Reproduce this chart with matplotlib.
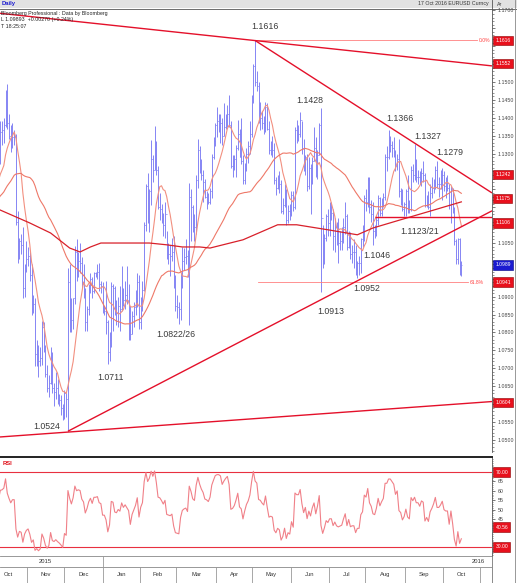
import numpy as np
import pandas as pd
import matplotlib
matplotlib.use("Agg")
import matplotlib.pyplot as plt
from matplotlib.transforms import blended_transform_factory as btf
from matplotlib.patches import Rectangle
from matplotlib.lines import Line2D
from matplotlib import font_manager as fm

# ---------------- data (EUR/USD daily) ----------------
dates = pd.bdate_range("2015-10-01", "2016-10-17")

highs = [
    # Oct 2015
    1.1225, 1.1318, 1.1245, 1.1285, 1.1290, 1.1330, 1.1390, 1.1390, 1.1400, 1.1478, 1.1495,
    1.1410, 1.1380, 1.1385, 1.1365, 1.1355, 1.1140, 1.1065, 1.1075, 1.1095, 1.0990, 1.1055,
    # Nov
    1.1040, 1.1025, 1.0990, 1.0905, 1.0895, 1.0780, 1.0765, 1.0760, 1.0832, 1.0830, 1.0765,
    1.0710, 1.0680, 1.0760, 1.0745, 1.0660, 1.0690, 1.0670, 1.0628, 1.0625, 1.0600,
    # Dec
    1.0640, 1.0630, 1.0981, 1.0990, 1.0895, 1.0895, 1.1042, 1.1060, 1.1025, 1.1050, 1.1010,
    1.0990, 1.0925, 1.0875, 1.0935, 1.0965, 1.0955, 1.0970, 1.0970, 1.0990, 1.0995, 1.0945, 1.0940,
    # Jan 2016
    1.0875, 1.0945, 1.0835, 1.0800, 1.0940, 1.0935, 1.0930, 1.0890, 1.0900, 1.0930, 1.0985,
    1.0925, 1.0945, 1.0985, 1.0935, 1.0875, 1.0860, 1.0885, 1.0920, 1.0965, 1.0960,
    # Feb
    1.0900, 1.0945, 1.1110, 1.1215, 1.1245, 1.1200, 1.1338, 1.1295, 1.1376, 1.1335, 1.1265,
    1.1190, 1.1160, 1.1135, 1.1165, 1.1085, 1.1050, 1.1045, 1.1065, 1.1070, 1.0960,
    # Mar
    1.0905, 1.0885, 1.0965, 1.1040, 1.1035, 1.1060, 1.1030, 1.1218, 1.1200, 1.1155, 1.1130,
    1.1240, 1.1342, 1.1320, 1.1285, 1.1255, 1.1230, 1.1195, 1.1190, 1.1205, 1.1300, 1.1345, 1.1385,
    # Apr
    1.1430, 1.1410, 1.1410, 1.1400, 1.1440, 1.1410, 1.1435, 1.1465, 1.1390, 1.1295, 1.1295,
    1.1325, 1.1395, 1.1370, 1.1400, 1.1295, 1.1275, 1.1315, 1.1335, 1.1390, 1.1465,
    # May
    1.1550, 1.1616, 1.1530, 1.1500, 1.1445, 1.1420, 1.1405, 1.1445, 1.1440, 1.1390, 1.1335,
    1.1350, 1.1330, 1.1235, 1.1240, 1.1250, 1.1225, 1.1175, 1.1215, 1.1200, 1.1155, 1.1160,
    # Jun
    1.1195, 1.1195, 1.1375, 1.1395, 1.1380, 1.1415, 1.1390, 1.1340, 1.1295, 1.1300, 1.1290,
    1.1270, 1.1290, 1.1375, 1.1345, 1.1310, 1.1385, 1.1428, 1.1100, 1.1075, 1.1130, 1.1145,
    # Jul
    1.1165, 1.1165, 1.1145, 1.1120, 1.1110, 1.1120, 1.1085, 1.1095, 1.1120, 1.1165, 1.1130,
    1.1085, 1.1080, 1.1045, 1.1060, 1.1045, 1.1000, 1.1015, 1.1065, 1.1100, 1.1185,
    # Aug
    1.1200, 1.1235, 1.1235, 1.1170, 1.1165, 1.1100, 1.1125, 1.1185, 1.1180, 1.1175, 1.1190,
    1.1300, 1.1320, 1.1366, 1.1350, 1.1335, 1.1345, 1.1310, 1.1300, 1.1340, 1.1205, 1.1200, 1.1165,
    # Sep
    1.1200, 1.1240, 1.1170, 1.1265, 1.1270, 1.1327, 1.1285, 1.1255, 1.1250, 1.1260, 1.1280,
    1.1245, 1.1185, 1.1195, 1.1215, 1.1235, 1.1230, 1.1265, 1.1279, 1.1235, 1.1255, 1.1260,
    # Oct
    1.1250, 1.1235, 1.1240, 1.1215, 1.1210, 1.1205, 1.1150, 1.1060, 1.1065, 1.1065, 1.1000,
]

lows = [
    # Oct 2015
    1.1135, 1.1150, 1.1162, 1.1180, 1.1220, 1.1205, 1.1270, 1.1325, 1.1330, 1.1375, 1.1370,
    1.1340, 1.1305, 1.1315, 1.1325, 1.1100, 1.0995, 1.1005, 1.1020, 1.0895, 1.0900, 1.0970,
    # Nov
    1.0985, 1.0945, 1.0850, 1.0855, 1.0705, 1.0705, 1.0675, 1.0705, 1.0710, 1.0745, 1.0675,
    1.0635, 1.0620, 1.0655, 1.0630, 1.0595, 1.0615, 1.0600, 1.0595, 1.0570, 1.0556,
    # Dec
    1.0558, 1.0565, 1.0524, 1.0800, 1.0800, 1.0810, 1.0880, 1.0945, 1.0955, 1.0965, 1.0925,
    1.0895, 1.0805, 1.0805, 1.0850, 1.0910, 1.0895, 1.0910, 1.0955, 1.0950, 1.0915, 1.0910, 1.0855,
    # Jan 2016
    1.0850, 1.0795, 1.0711, 1.0720, 1.0760, 1.0805, 1.0850, 1.0820, 1.0815, 1.0805, 1.0860,
    1.0875, 1.0865, 1.0880, 1.0780, 1.0780, 1.0795, 1.0815, 1.0850, 1.0870, 1.0810,
    # Feb
    1.0810, 1.0860, 1.0915, 1.1085, 1.1105, 1.1080, 1.1155, 1.1220, 1.1255, 1.1240, 1.1145,
    1.1115, 1.1105, 1.1070, 1.1065, 1.1005, 1.0990, 1.0958, 1.1000, 1.0925, 1.0860,
    # Mar
    1.0840, 1.0825, 1.0835, 1.0925, 1.0975, 1.0990, 1.0955, 1.0822, 1.1055, 1.1080, 1.1055,
    1.1075, 1.1205, 1.1245, 1.1225, 1.1165, 1.1175, 1.1145, 1.1160, 1.1160, 1.1175, 1.1285, 1.1320,
    # Apr
    1.1345, 1.1360, 1.1330, 1.1325, 1.1350, 1.1370, 1.1375, 1.1375, 1.1260, 1.1235, 1.1255,
    1.1235, 1.1310, 1.1290, 1.1270, 1.1215, 1.1215, 1.1250, 1.1275, 1.1300, 1.1345,
    # May
    1.1440, 1.1490, 1.1475, 1.1385, 1.1365, 1.1370, 1.1355, 1.1360, 1.1365, 1.1300, 1.1295,
    1.1290, 1.1215, 1.1185, 1.1200, 1.1190, 1.1135, 1.1130, 1.1150, 1.1100, 1.1105, 1.1115,
    # Jun
    1.1125, 1.1140, 1.1145, 1.1330, 1.1335, 1.1345, 1.1300, 1.1250, 1.1240, 1.1195, 1.1200,
    1.1130, 1.1215, 1.1280, 1.1235, 1.1230, 1.1295, 1.0913, 1.0980, 1.0990, 1.1055, 1.1070,
    # Jul
    1.1070, 1.1115, 1.1030, 1.1025, 1.1045, 1.0995, 1.1030, 1.1030, 1.1050, 1.1075, 1.1030,
    1.1035, 1.1005, 1.0995, 1.0980, 1.0960, 1.0952, 1.0960, 1.0965, 1.1040, 1.1055,
    # Aug
    1.1140, 1.1150, 1.1135, 1.1110, 1.1045, 1.1065, 1.1070, 1.1100, 1.1125, 1.1125, 1.1150,
    1.1170, 1.1250, 1.1285, 1.1305, 1.1290, 1.1290, 1.1250, 1.1255, 1.1180, 1.1155, 1.1140, 1.1125,
    # Sep
    1.1125, 1.1135, 1.1135, 1.1140, 1.1220, 1.1225, 1.1220, 1.1215, 1.1215, 1.1210, 1.1220,
    1.1150, 1.1150, 1.1145, 1.1125, 1.1175, 1.1190, 1.1200, 1.1205, 1.1180, 1.1200, 1.1170,
    # Oct
    1.1195, 1.1175, 1.1195, 1.1145, 1.1105, 1.1135, 1.1045, 1.0990, 1.0990, 1.0960, 1.0958,
]

closes = [
    # Oct 2015
    1.1195, 1.1210, 1.1195, 1.1265, 1.1240, 1.1280, 1.1360, 1.1365, 1.1380, 1.1473, 1.1385,
    1.1350, 1.1320, 1.1345, 1.1345, 1.1110, 1.1015, 1.1055, 1.1045, 1.0925, 1.0980, 1.1005,
    # Nov
    1.1015, 1.0960, 1.0865, 1.0880, 1.0740, 1.0750, 1.0720, 1.0730, 1.0815, 1.0770, 1.0685,
    1.0645, 1.0660, 1.0735, 1.0645, 1.0635, 1.0645, 1.0625, 1.0610, 1.0590, 1.0565,
    # Dec
    1.0630, 1.0615, 1.0940, 1.0880, 1.0835, 1.0895, 1.1025, 1.0990, 1.1000, 1.0995, 1.0935,
    1.0915, 1.0830, 1.0865, 1.0920, 1.0950, 1.0915, 1.0965, 1.0965, 1.0970, 1.0935, 1.0930, 1.0860,
    # Jan 2016
    1.0860, 1.0830, 1.0745, 1.0780, 1.0930, 1.0925, 1.0860, 1.0855, 1.0875, 1.0865, 1.0915,
    1.0890, 1.0905, 1.0890, 1.0875, 1.0795, 1.0845, 1.0870, 1.0895, 1.0940, 1.0830,
    # Feb
    1.0890, 1.0920, 1.1100, 1.1210, 1.1155, 1.1195, 1.1285, 1.1255, 1.1325, 1.1255, 1.1150,
    1.1145, 1.1125, 1.1100, 1.1130, 1.1025, 1.1020, 1.1015, 1.1025, 1.0935, 1.0875,
    # Mar
    1.0870, 1.0865, 1.0955, 1.1000, 1.1010, 1.1015, 1.0995, 1.1180, 1.1150, 1.1105, 1.1095,
    1.1225, 1.1310, 1.1270, 1.1240, 1.1220, 1.1180, 1.1175, 1.1165, 1.1195, 1.1290, 1.1335, 1.1380,
    # Apr
    1.1390, 1.1390, 1.1385, 1.1350, 1.1375, 1.1395, 1.1410, 1.1380, 1.1265, 1.1270, 1.1285,
    1.1315, 1.1355, 1.1290, 1.1280, 1.1225, 1.1265, 1.1300, 1.1320, 1.1355, 1.1450,
    # May
    1.1545, 1.1500, 1.1490, 1.1405, 1.1400, 1.1385, 1.1375, 1.1430, 1.1370, 1.1310, 1.1315,
    1.1310, 1.1225, 1.1205, 1.1225, 1.1215, 1.1140, 1.1155, 1.1190, 1.1115, 1.1140, 1.1130,
    # Jun
    1.1185, 1.1150, 1.1365, 1.1355, 1.1355, 1.1395, 1.1315, 1.1255, 1.1290, 1.1210, 1.1260,
    1.1225, 1.1280, 1.1315, 1.1240, 1.1295, 1.1380, 1.1120, 1.1020, 1.1065, 1.1125, 1.1105,
    # Jul
    1.1135, 1.1135, 1.1070, 1.1095, 1.1060, 1.1050, 1.1055, 1.1060, 1.1095, 1.1125, 1.1040,
    1.1075, 1.1020, 1.1025, 1.1025, 1.0975, 1.0995, 1.0995, 1.1060, 1.1075, 1.1175,
    # Aug
    1.1165, 1.1225, 1.1150, 1.1130, 1.1085, 1.1080, 1.1115, 1.1175, 1.1135, 1.1160, 1.1180,
    1.1290, 1.1290, 1.1325, 1.1325, 1.1315, 1.1305, 1.1265, 1.1285, 1.1195, 1.1185, 1.1145, 1.1160,
    # Sep
    1.1195, 1.1155, 1.1145, 1.1255, 1.1240, 1.1260, 1.1235, 1.1235, 1.1220, 1.1245, 1.1240,
    1.1155, 1.1170, 1.1150, 1.1190, 1.1205, 1.1225, 1.1255, 1.1215, 1.1215, 1.1225, 1.1240,
    # Oct
    1.1210, 1.1205, 1.1205, 1.1155, 1.1200, 1.1145, 1.1055, 1.1005, 1.1060, 1.0970, 1.0989,
]

# closes before the visible window (Jul 20 - Sep 30 2015), used only for indicator warm-up
warmup_closes = [
    1.0830, 1.0935, 1.0930, 1.0985, 1.0980, 1.1085, 1.1060, 1.0985, 1.0935, 1.0985,
    1.0955, 1.0890, 1.0905, 1.0925, 1.0965, 1.1015, 1.1040, 1.1160, 1.1150, 1.1105,
    1.1080, 1.1025, 1.1115, 1.1240, 1.1385, 1.1620, 1.1515, 1.1315, 1.1245, 1.1185,
    1.1215, 1.1310, 1.1230, 1.1120, 1.1150, 1.1170, 1.1205, 1.1150, 1.1270, 1.1340,
    1.1315, 1.1265, 1.1290, 1.1435, 1.1305, 1.1195, 1.1135, 1.1190, 1.1210, 1.1195,
    1.1250, 1.1255, 1.1175,
]

# long moving average (thick dark-red line): trading-day index, price
ma_long_idx = [6, 23, 35, 46, 52, 58, 64, 79, 92, 102, 111, 121, 127, 146, 166, 177, 195, 212, 221, 237, 256, 272]
ma_long_val = [1.1142, 1.1106, 1.1078, 1.1036, 1.1025, 1.1039, 1.1050, 1.1050, 1.1050, 1.1045, 1.1039,
               1.1039, 1.1036, 1.1059, 1.1101, 1.1101, 1.1087, 1.1073, 1.1092, 1.1115, 1.1142, 1.1165]

# trend lines: (index, price) end points
line_top = [(5.8, 1.1692), (289.7, 1.1545)]
line_down = [(153, 1.1616), (289.7, 1.1190)]
line_up = [(45, 1.0524), (289.7, 1.1140)]
line_low = [(5.8, 1.0508), (289.7, 1.0607)]
support_level = 1.1122
support_start = 222
fib_0 = 1.1616
fib_618 = 1.0941

# annotations: text, index, price
ann_text = ["1.1616", "1.1428", "1.1366", "1.1327", "1.1279", "1.1123/21", "1.1046",
            "1.0952", "1.0913", "1.0822/26", "1.0711", "1.0524"]
ann_idx = [158.8, 184.7, 236.7, 252.5, 265.5, 248.2, 223.4, 217.6, 196.8, 107.4, 69.3, 33.0]
ann_val = [1.1656, 1.1447, 1.1397, 1.1349, 1.1302, 1.1081, 1.1014, 1.0922, 1.0860, 1.0793, 1.0673, 1.0536]

# right-hand price boxes
box_vals = [1.1616, 1.1552, 1.1242, 1.1175, 1.1106, 1.0989, 1.0941, 1.0604]
box_cols = ["red", "red", "red", "red", "red", "blue", "red", "red"]
rsi_box_vals = [70.0, 40.56, 30.0]
rsi_box_text = ["70.00", "40.56", "30.00"]

# ---------------- helpers ----------------
def pick(*names):
    for nm in names:
        try:
            fm.findfont(fm.FontProperties(family=nm), fallback_to_default=False)
            return nm
        except Exception:
            pass
    return "DejaVu Sans"

NARROW = pick("Liberation Sans Narrow", "Liberation Sans", "Arial")

n = min(len(dates), len(highs), len(lows), len(closes))
x = np.arange(n)
H = np.array(highs[:n]); L = np.array(lows[:n]); C = np.array(closes[:n])
allc = np.r_[warmup_closes, C]
O = np.r_[warmup_closes[-1], C[:-1]]
w = len(warmup_closes)
ma_short = pd.Series(allc).rolling(10, min_periods=1).mean().values[w:]
ma_mid = pd.Series(allc).rolling(55, min_periods=1).mean().values[w:]

def rsi(series, p=14):
    d = np.diff(series)
    up = pd.Series(np.where(d > 0, d, 0.0)).ewm(alpha=1 / p, adjust=False).mean()
    dn = pd.Series(np.where(d < 0, -d, 0.0)).ewm(alpha=1 / p, adjust=False).mean()
    r = 100 - 100 / (1 + up / dn)
    return np.r_[np.nan, r.values]

R = rsi(allc)[w:]

W, Hh = 517, 583
fig = plt.figure(figsize=(W / 100, Hh / 100), dpi=100)
fig.patch.set_facecolor("white")

def fy(px):
    return 1 - px / Hh

def fx(px):
    return px / W

XL = (5.8, 289.7)
RIGHT = 492

# ---------------- main panel ----------------
ax = fig.add_axes([0, fy(452), fx(RIGHT), fy(9) - fy(452)])
ax.set_xlim(*XL)
ax.set_ylim(1.0466, 1.1704)
for s in ["top", "left", "bottom"]:
    ax.spines[s].set_visible(False)
ax.spines["right"].set_color("#555555")
ax.spines["right"].set_linewidth(0.6)
ax.set_xticks([])
ax.yaxis.tick_right()
major = np.round(np.arange(1.05, 1.1701, 0.005), 4)
ax.set_yticks(major)
ax.set_yticklabels(["" if np.min(np.abs(np.array(box_vals) - v)) < 0.0036 else f"{v:.4f}"
                    for v in major])
ax.set_yticks(np.arange(1.047, 1.1701, 0.001), minor=True)
ax.tick_params(axis="y", which="major", length=2, width=0.5, pad=2, labelsize=3.8,
               colors="#444444")
ax.tick_params(axis="y", which="minor", length=1.2, width=0.4, colors="#444444")
for t in ax.get_yticklabels():
    t.set_fontfamily(NARROW)

bar_col = "#8585f4"
ax.vlines(x, L, H, color=bar_col, lw=0.7, zorder=3)
ax.hlines(O, x - 0.45, x, color=bar_col, lw=0.55, zorder=3)
ax.hlines(C, x, x + 0.45, color=bar_col, lw=0.55, zorder=3)

ax.plot(x, ma_short, color="#f29080", lw=0.8, zorder=4)
ax.plot(x, ma_mid, color="#ee7868", lw=0.8, zorder=4)
ax.plot(ma_long_idx, ma_long_val, color="#d8202a", lw=0.9, zorder=4)

tl = dict(color="#e4102a", lw=1.0, zorder=5, solid_capstyle="butt")
for ln in (line_top, line_down, line_up, line_low):
    ax.plot([ln[0][0], ln[1][0]], [ln[0][1], ln[1][1]], **tl)
ax.plot([support_start, XL[1]], [support_level, support_level], **tl)

ax.plot([153, 281], [fib_0, fib_0], color="#ff8080", lw=0.6, zorder=4)
ax.text(282, fib_0, "0.0%", color="#ff4040", fontsize=3.6, va="center", ha="left",
        family=NARROW, zorder=6)
ax.plot([154.7, 276], [fib_618, fib_618], color="#ff8080", lw=0.6, zorder=4)
ax.text(277, fib_618, "61.8%", color="#ff4040", fontsize=3.6, va="center", ha="left",
        family=NARROW, zorder=6)

for t, i, v in zip(ann_text, ann_idx, ann_val):
    ax.text(i, v, t, fontsize=6.3, color="#3a3a3a", ha="center", va="center",
            family=NARROW, zorder=7)

tr = btf(ax.transAxes, ax.transData)
for v, c in zip(box_vals, box_cols):
    fc = "#e8101c" if c == "red" else "#1a1ad0"
    ax.text(1.007, v, f"{v:.4f}", transform=tr, fontsize=3.6, color="white",
            ha="left", va="center", family=NARROW, clip_on=False, zorder=20,
            bbox=dict(boxstyle="square,pad=0.45", fc=fc, ec="#8a0000" if c == "red" else "#000080",
                      lw=0.4))

# ---------------- RSI panel ----------------
axr = fig.add_axes([0, fy(556), fx(RIGHT), fy(457) - fy(556)])
axr.set_xlim(*XL)
axr.set_ylim(25.2, 78)
for s in ["left", "bottom"]:
    axr.spines[s].set_visible(False)
axr.spines["top"].set_color("#222222")
axr.spines["top"].set_linewidth(1.4)
axr.spines["right"].set_color("#555555")
axr.spines["right"].set_linewidth(0.6)
axr.set_xticks([])
axr.yaxis.tick_right()
axr.set_yticks([45, 50, 55, 60, 65])
axr.set_yticks(np.arange(26, 78, 1), minor=True)
axr.tick_params(axis="y", which="major", length=2, width=0.5, pad=2, labelsize=3.8,
                colors="#444444")
axr.tick_params(axis="y", which="minor", length=1.0, width=0.4, colors="#444444")
for t in axr.get_yticklabels():
    t.set_fontfamily(NARROW)
axr.axhline(70, color="#e83040", lw=0.8, zorder=3)
axr.axhline(30, color="#e83040", lw=0.8, zorder=3)
axr.plot(x, R, color="#f08088", lw=0.8, zorder=4)
axr.text(0.006, 0.93, "RSI", transform=axr.transAxes, color="#e0101a", fontsize=4.2,
         fontweight="bold", ha="left", va="center", family=NARROW)
trr = btf(axr.transAxes, axr.transData)
for v, t in zip(rsi_box_vals, rsi_box_text):
    axr.text(1.007, v, t, transform=trr, fontsize=3.6, color="white", ha="left",
             va="center", family=NARROW, clip_on=False, zorder=20,
             bbox=dict(boxstyle="square,pad=0.45", fc="#e8101c", ec="#8a0000", lw=0.4))

# ---------------- date strip ----------------
axd = fig.add_axes([0, 0, fx(RIGHT), fy(556)])
axd.set_xlim(*XL)
axd.set_ylim(0, 1)
axd.axis("off")
months = pd.Series(dates[:n].month)
starts = [0] + list(np.where(months.values[1:] != months.values[:-1])[0] + 1)
bounds = starts + [starts[-1] + 21]
axd.axhline(0.6, color="#888888", lw=0.6)
axd.axhline(0.99, color="#888888", lw=0.6)
for b in bounds[1:]:
    axd.plot([b - 0.5, b - 0.5], [0, 0.6], color="#999999", lw=0.6, clip_on=True)
for a, b in zip(bounds[:-1], bounds[1:]):
    lab = dates[a].strftime("%b")
    axd.text((a + b - 1) / 2, 0.3, lab, fontsize=4.2, color="#333333", ha="center",
             va="center", family=NARROW, clip_on=True)
jan = starts[3]
axd.plot([jan - 0.5, jan - 0.5], [0.6, 1], color="#999999", lw=0.6)
axd.text(32, 0.8, "2015", fontsize=4.2, color="#333333", ha="center", va="center", family=NARROW)
axd.text(282, 0.8, "2016", fontsize=4.2, color="#333333", ha="center", va="center", family=NARROW)

# ---------------- header and frame ----------------
fig.add_artist(Rectangle((0, fy(8)), 1, fy(0) - fy(8), transform=fig.transFigure,
                         fc="#e2e2e2", ec="none", zorder=0))
fig.add_artist(Line2D([0, 1], [fy(8.5), fy(8.5)], transform=fig.transFigure, color="#555555", lw=0.6))
fig.add_artist(Line2D([fx(RIGHT), fx(RIGHT)], [fy(0), fy(8.5)], transform=fig.transFigure,
                      color="#555555", lw=0.6))
fig.add_artist(Line2D([fx(515), fx(515)], [0, 1], transform=fig.transFigure, color="#888888", lw=0.6))
fig.add_artist(Line2D([fx(RIGHT), fx(RIGHT)], [fy(583), fy(556)], transform=fig.transFigure,
                      color="#777777", lw=0.6))
fig.text(fx(2), fy(4), "Daily", color="#1a1ad0", fontsize=4.2, fontweight="bold",
         ha="left", va="center", family=NARROW)
fig.text(fx(489), fy(4), "17 Oct 2016 EURUSD Curncy", color="#333333", fontsize=3.8,
         ha="right", va="center", family=NARROW)
fig.text(fx(497), fy(4), "Ar", color="#333333", fontsize=3.8, ha="left", va="center", family=NARROW)
fig.text(fx(1), fy(13), "Bloomberg Professional : Data by Bloomberg", color="#222222",
         fontsize=3.8, ha="left", va="center", family=NARROW)
fig.text(fx(1), fy(20), "L 1.09893  +0.00270 (+0.24%)", color="#222222", fontsize=3.8,
         ha="left", va="center", family=NARROW)
fig.text(fx(1), fy(27), "T 18:25:07", color="#222222", fontsize=3.8, ha="left", va="center",
         family=NARROW)

fig.savefig("out.png", dpi=100, facecolor="white")
